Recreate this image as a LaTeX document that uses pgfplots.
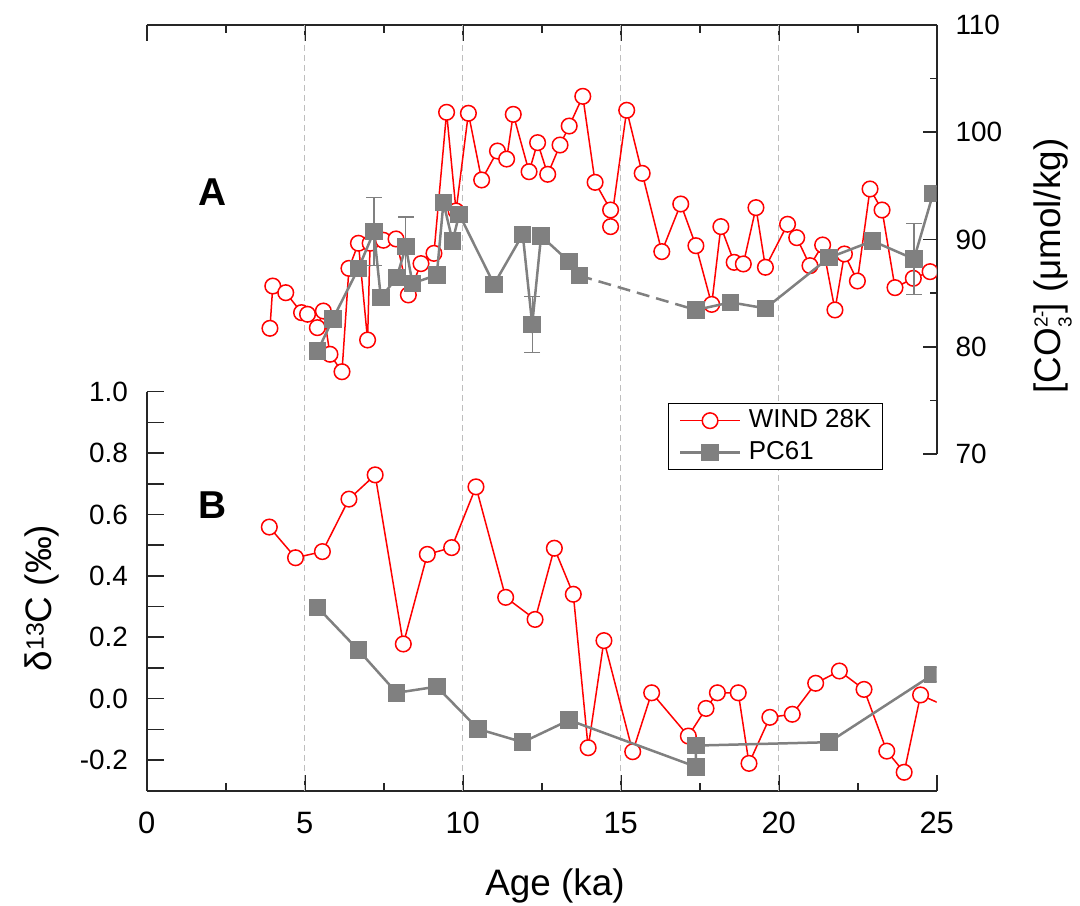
\documentclass[border=0pt]{standalone}
\usepackage{fontspec}
\setmainfont{Liberation Sans}
\usepackage{pgfplots}
\pgfplotsset{compat=1.18}
\definecolor{spine}{gray}{0.15}
\definecolor{pcgray}{RGB}{128,128,128}
\definecolor{gridgray}{RGB}{190,190,190}
\begin{document}
\begin{tikzpicture}
\path[use as bounding box] (0,0) rectangle (540bp,453bp);
\pgfplotsset{
  base/.style={scale only axis, width=395bp, anchor=south west, xmin=0, xmax=25,
    axis line style={spine, line width=0.8bp}, tick style={spine, line width=0.8bp},
    tick align=inside, clip=true, clip marker paths=true},
  wind/.style={red, line width=0.75bp, mark=*, mark size=3.9bp, mark options={fill=white, draw=red, solid}},
  pc/.style={pcgray, line width=1.25bp, mark=square*, mark size=3.75bp, mark options={solid}},
}
% ---------- frame: top and bottom spines, x ticks, grid ----------
\begin{axis}[base, at={(73.35bp,57.65bp)}, height=382.85bp, ymin=0, ymax=1,
  separate axis lines, y axis line style={draw=none}, ytick=\empty,
  xtick={0,5,10,15,20,25}, xticklabels={0,5,10,15,20,25},
  minor xtick={2.5,7.5,12.5,17.5,22.5},
  major tick length=8bp, minor tick length=4bp,
  xticklabel style={font=\fontsize{15.5}{18}\selectfont, inner sep=0pt, anchor=north, yshift=-10.5bp},
  extra x ticks={5,10,15,20}, extra x tick labels={},
  extra x tick style={grid=major, major tick length=0pt},
  major grid style={gridgray, line width=0.5bp, dash pattern=on 3bp off 2bp},
]
\addplot[draw=none, forget plot] coordinates {(0,0)(25,1)};
\end{axis}
% ---------- panel B: d13C ----------
\begin{axis}[base, at={(73.35bp,57.65bp)}, height=199.5bp, ymin=-0.3, ymax=1.0,
  axis y line*=left, axis x line*=bottom, x axis line style={draw=none}, xtick=\empty,
  ytick={-0.2,0,0.2,0.4,0.6,0.8,1.0}, yticklabels={-0.2,0.0,0.2,0.4,0.6,0.8,1.0},
  minor ytick={-0.1,0.1,0.3,0.5,0.7,0.9},
  major tick length=8.5bp, minor tick length=8.5bp,
  yticklabel style={font=\fontsize{14}{16}\selectfont, inner sep=0pt, anchor=east, xshift=-9.2bp},
]
\addplot[wind, forget plot] coordinates {
(3.88,0.559)(4.71,0.459)(5.56,0.479)(6.40,0.650)(7.23,0.729)(8.12,0.178)(8.88,0.470)(9.65,0.492)
(10.42,0.690)(11.36,0.330)(12.29,0.258)(12.90,0.490)(13.50,0.340)(13.97,-0.160)(14.47,0.189)
(15.38,-0.173)(15.98,0.019)(17.14,-0.122)(17.70,-0.032)(18.06,0.019)(18.72,0.019)(19.06,-0.211)
(19.72,-0.061)(20.43,-0.051)(21.17,0.050)(21.92,0.090)(22.70,0.030)(23.42,-0.171)(23.97,-0.240)
(24.49,0.012)(25.40,-0.030)};
\addplot[pc, forget plot] coordinates {
(5.41,0.297)(6.70,0.158)(7.91,0.019)(9.18,0.039)(10.49,-0.099)(11.90,-0.142)(13.37,-0.070)
(17.38,-0.222)(17.38,-0.153)(21.59,-0.142)(24.89,0.079)};
\end{axis}
% ---------- panel A: CO3 ----------
\begin{axis}[base, at={(73.35bp,226bp)}, height=214.5bp, ymin=70, ymax=110,
  axis y line*=right, axis x line*=bottom, x axis line style={draw=none}, xtick=\empty,
  ytick={70,80,90,100,110}, yticklabels={70,80,90,100,110},
  minor ytick={75,85,95,105},
  major tick length=7bp, minor tick length=3.5bp,
  yticklabel style={font=\fontsize{14}{16}\selectfont, inner sep=0pt, anchor=west, xshift=9.2bp},
  legend style={at={(0.6595,0.1196)}, anchor=north west, draw=black, line width=0.5bp,
    font=\fontsize{13}{15}\selectfont, inner xsep=5.5bp, inner ysep=2.75bp, row sep=3.8bp,
    nodes={inner sep=0pt, text height=9.5bp, text depth=2.5bp}},
  legend cell align=left,
  legend image code/.code={\draw[mark repeat=2, mark phase=2] plot coordinates {(0bp,0bp)(14.8bp,0bp)(29.6bp,0bp)};
    \path (33.6bp,0bp);},
]
\addlegendimage{wind}
\addlegendentry{WIND 28K}
\addlegendimage{pc}
\addlegendentry{PC61}
\addplot[wind, forget plot] coordinates {
(3.90,81.72)(3.99,85.66)(4.40,85.04)(4.90,83.18)(5.09,83.03)(5.40,81.78)(5.59,83.33)(5.80,79.30)
(6.18,77.67)(6.40,87.31)(6.70,89.65)(6.99,80.63)(7.07,89.65)(7.49,89.93)(7.89,90.05)(8.28,84.83)
(8.68,87.75)(9.09,88.71)(9.49,101.86)(9.79,92.66)(10.18,101.77)(10.60,95.55)(11.10,98.25)
(11.39,97.50)(11.60,101.67)(12.10,96.32)(12.37,99.03)(12.69,96.08)(13.08,98.81)(13.37,100.58)
(13.80,103.35)(14.19,95.33)(14.68,92.75)(14.68,91.20)(15.19,102.05)(15.68,96.17)(16.30,88.87)
(16.90,93.31)(17.38,89.42)(17.88,83.95)(18.17,91.20)(18.59,87.87)(18.88,87.72)(19.28,92.97)
(19.58,87.41)(20.28,91.42)(20.57,90.17)(20.99,87.56)(21.39,89.49)(21.78,83.43)(22.08,88.65)
(22.49,86.13)(22.89,94.71)(23.27,92.75)(23.68,85.51)(24.26,86.38)(24.79,87.00)};
\addplot[pcgray, only marks, mark=none, forget plot,
  error bars/.cd, y dir=both, y explicit,
  error bar style={pcgray, line width=0.6bp},
  error mark options={pcgray, mark size=3.9bp, line width=0.6bp, rotate=90}] coordinates {
(7.19,90.73) +- (0,3.17)
(8.20,89.33) +- (0,2.77)
(12.20,82.09) +- (0,2.63)
(24.28,88.18) +- (0,3.3)};
\addplot[pcgray, line width=1.25bp, dash pattern=on 6.5bp off 3.5bp, forget plot] coordinates {(13.69,86.63)(17.38,83.43)};
\addplot[pc, forget plot] coordinates {
(5.41,79.60)(5.89,82.59)(6.70,87.31)(7.19,90.73)(7.41,84.57)(7.91,86.44)(8.20,89.33)(8.41,85.91)
(9.18,86.69)(9.39,93.43)(9.68,89.86)(9.89,92.35)(10.99,85.82)(11.90,90.48)(12.20,82.09)(12.48,90.33)
(13.37,87.93)(13.69,86.63)};
\addplot[pc, forget plot] coordinates {
(17.38,83.43)(18.48,84.14)(19.58,83.58)(21.59,88.30)(22.97,89.86)(24.28,88.18)(24.89,94.31)};
\end{axis}
% ---------- labels ----------
\node[font=\fontsize{18.5}{22}\selectfont, anchor=base, inner sep=0pt] at (277.5bp,5.5bp) {Age (ka)};
\node[font=\fontsize{18.5}{22}\selectfont, rotate=90, anchor=base, inner sep=0pt] at (25.85bp,154bp)
  {δ\raisebox{4bp}{\fontsize{12.5}{14}\selectfont 13}C (‰)};
\node[font=\fontsize{18.5}{22}\selectfont, rotate=90, anchor=base, inner sep=0pt] at (530bp,320bp)
  {[CO\rlap{\raisebox{6.2bp}{\fontsize{9.5}{11}\selectfont 2-}}\raisebox{-5.8bp}{\fontsize{9.5}{11}\selectfont 3}\hspace{2bp}] (μmol/kg)};
\node[font=\bfseries\fontsize{19.5}{22}\selectfont, inner sep=0pt] at (106.25bp,356.75bp) {A};
\node[font=\bfseries\fontsize{19.5}{22}\selectfont, inner sep=0pt] at (106.25bp,200.65bp) {B};
\end{tikzpicture}
\end{document}
